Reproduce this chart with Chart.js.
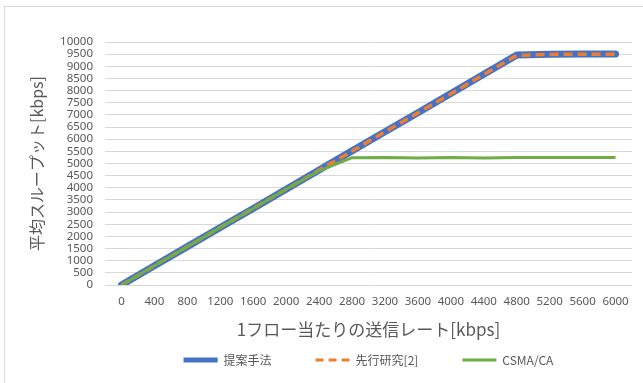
<!DOCTYPE html>
<html lang="ja">
<head>
<meta charset="utf-8">
<title>平均スループット</title>
<script src="https://cdn.jsdelivr.net/npm/chart.js@4.4.1/dist/chart.umd.min.js"></script>
<style>
  html, body { margin: 0; padding: 0; background: #ffffff; }
  #wrap { position: relative; width: 643px; height: 383px; overflow: hidden; }
  #frame { position: absolute; left: 4px; top: 6px; width: 700px; height: 420px;
           border: 1px solid #d9d9d9; box-sizing: border-box; pointer-events: none; }
  canvas { position: absolute; left: 0; top: 0; }
</style>
</head>
<body>
<div id="wrap">
  <canvas id="chart" width="643" height="383"></canvas>
  <div id="frame"></div>
</div>
<script>
// Sending rate per flow [kbps]
const rates = ['0', '400', '800', '1200', '1600', '2000', '2400', '2800',
               '3200', '3600', '4000', '4400', '4800', '5200', '5600', '6000'];

// Average throughput [kbps]
const proposed = [0, 790, 1580, 2370, 3150, 3940, 4730, 5520, 6310, 7090, 7880, 8670, 9460, 9500, 9510, 9510];
const prior    = [0, 790, 1580, 2370, 3150, 3940, 4730, 5510, 6300, 7080, 7870, 8660, 9450, 9490, 9500, 9500];
const csma     = [0, 790, 1580, 2370, 3150, 3940, 4700, 5240, 5250, 5230, 5250, 5230, 5250, 5250, 5250, 5250];

const seriesNames = ['提案手法', '先行研究[2]', 'CSMA/CA'];
const xTitle = '1フロー当たりの送信レート[kbps]';
const yTitle = '平均スループット[kbps]';

const grey = '#595959';
const jp = '"Noto Sans CJK JP", "Noto Sans", sans-serif';
const num = '"Noto Sans", "DejaVu Sans", sans-serif';

// legend sample line widths per series
const legendWidths = [5, 3, 3];

new Chart(document.getElementById('chart'), {
  type: 'line',
  data: {
    labels: rates,
    datasets: [
      { label: seriesNames[0], data: proposed, borderColor: '#4472C4', backgroundColor: '#4472C4',
        borderWidth: 7, borderCapStyle: 'round', borderJoinStyle: 'round', order: 3 },
      { label: seriesNames[1], data: prior, borderColor: '#ED7D31', backgroundColor: '#ED7D31',
        borderWidth: 3.5, borderDash: [9, 5], borderCapStyle: 'butt', borderJoinStyle: 'round', order: 2 },
      { label: seriesNames[2], data: csma, borderColor: '#70AD47', backgroundColor: '#70AD47',
        borderWidth: 3, borderCapStyle: 'butt', borderJoinStyle: 'round', order: 1 }
    ]
  },
  options: {
    responsive: false,
    animation: false,
    layout: { padding: { top: 42, right: 11, left: 0, bottom: 7 } },
    elements: { point: { radius: 0, hoverRadius: 0 }, line: { tension: 0, fill: false } },
    plugins: {
      tooltip: { enabled: false },
      legend: {
        position: 'bottom',
        fullSize: false,
        align: 'center',
        labels: {
          usePointStyle: true,
          pointStyle: 'line',
          pointStyleWidth: 34,
          padding: 44,
          color: grey,
          font: { family: jp, size: 12 },
          sort: (a, b) => a.datasetIndex - b.datasetIndex,
          generateLabels: (chart) => {
            const items = Chart.defaults.plugins.legend.labels.generateLabels(chart);
            items.forEach((it) => {
              const ds = chart.data.datasets[it.datasetIndex];
              it.lineDash = ds.borderDash ? [8, 5] : [];
              it.lineWidth = legendWidths[it.datasetIndex];
              it.strokeStyle = ds.borderColor;
              it.lineCap = 'butt';
            });
            return items;
          }
        }
      }
    },
    scales: {
      x: {
        type: 'category',
        offset: true,
        grid: { display: false, drawTicks: false },
        border: { display: false },
        ticks: { color: grey, font: { family: num, size: 11.5 }, padding: 10, maxRotation: 0, autoSkip: false },
        title: { display: true, text: xTitle, color: grey, font: { family: jp, size: 17 },
                 padding: { top: 0, bottom: -30 } },
        afterFit: (s) => { s.height = 25; }
      },
      y: {
        min: 0, max: 10000,
        grid: { color: '#d9d9d9', lineWidth: 1, drawTicks: false },
        border: { display: false },
        ticks: { stepSize: 500, autoSkip: false, color: grey, font: { family: num, size: 11.5 }, padding: 12,
                 callback: (v) => String(v) },
        title: { display: true, text: yTitle, color: grey, font: { family: jp, size: 16 },
                 padding: { top: 27, bottom: 0 } },
        afterFit: (s) => { s.width = 105; }
      }
    }
  }
});
</script>
</body>
</html>
